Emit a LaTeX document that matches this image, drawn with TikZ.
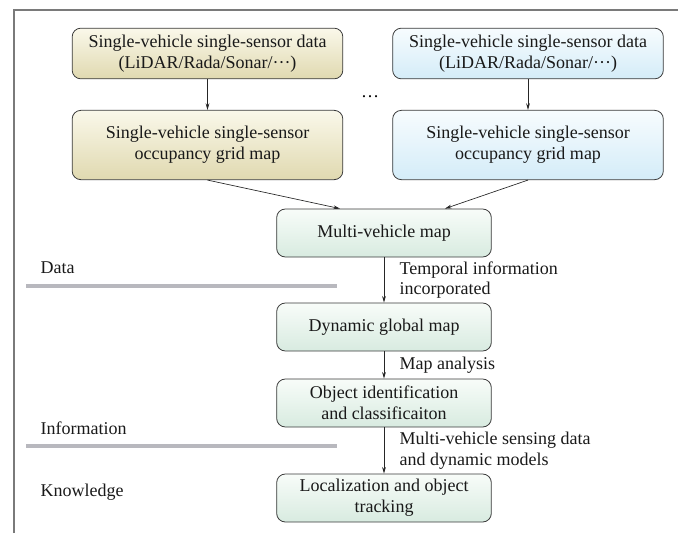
\documentclass[tikz,border=0pt]{standalone}
\usepackage{fontspec}
\setmainfont{Liberation Serif}
\usepackage{xcolor}
\usepackage{tikz}
\usetikzlibrary{
    arrows.meta, positioning, calc
}
\definecolor{khakitop}{HTML}{FAF8EA}
\definecolor{khakibot}{HTML}{E0D9B0}
\definecolor{bluetop}{HTML}{F7FCFE}
\definecolor{bluebot}{HTML}{D4ECF8}
\definecolor{greentop}{HTML}{F8FCF9}
\definecolor{greenbot}{HTML}{D8EBE0}
\definecolor{boxline}{HTML}{3A3A3A}
\definecolor{layergray}{HTML}{B8B8BE}
\definecolor{framegray}{HTML}{7A7A7A}

\begin{document}
\begin{tikzpicture}[
    x=0.75pt, y=-0.75pt,
    stage/.style={
        rectangle, rounded corners=6.5pt,
        draw=boxline, line width=0.6pt,
        align=center, text=black!90,
        font=\fontsize{13.5}{15.5}\selectfont,
    },
    sensorbox/.style={stage, minimum width=203pt},
    mapbox/.style={stage, top color=greentop, bottom color=greenbot,
        minimum width=161pt, minimum height=36pt},
    flow/.style={-{Stealth[length=5pt,width=2.8pt]}, line width=0.5pt, black!85},
    steplabel/.style={anchor=west, align=left, text=black!90,
        font=\fontsize{13.5}{15.5}\selectfont},
    layerlabel/.style={anchor=west, text=black!90,
        font=\fontsize{13.5}{15.5}\selectfont},
    layerline/.style={draw=layergray, line width=2.6pt},
]
\useasboundingbox (0,0) rectangle (678,533);

% ── Frame ───────────────────────────────────────────────────────────────────
\draw[framegray, line width=1.2pt] (14,533) -- (14,10) -- (678,10);

% ── Sensor columns (left: khaki, right: blue) ──────────────────────────────
\node[sensorbox, top color=khakitop, bottom color=khakibot, minimum height=38pt]
    (dataL) at (207.5,53.5) {Single-vehicle single-sensor data\\(LiDAR/Rada/Sonar/···)};
\node[sensorbox, top color=khakitop, bottom color=khakibot, minimum height=52pt]
    (gridL) at (207.5,145) {Single-vehicle single-sensor\\occupancy grid map};

\node[sensorbox, top color=bluetop, bottom color=bluebot, minimum height=38pt]
    (dataR) at (528,53.5) {Single-vehicle single-sensor data\\(LiDAR/Rada/Sonar/···)};
\node[sensorbox, top color=bluetop, bottom color=bluebot, minimum height=52pt]
    (gridR) at (528,145) {Single-vehicle single-sensor\\occupancy grid map};

\node[font=\fontsize{13.5}{15.5}\selectfont] (more) at (370,97) {\dots};

% ── Processing chain (green) ───────────────────────────────────────────────
\node[mapbox] (mvm) at (384,233) {Multi-vehicle map};
\node[mapbox] (dgm) at (384,327) {Dynamic global map};
\node[mapbox] (oic) at (384,403) {Object identification\\and classificaiton};
\node[mapbox] (lot) at (384,498) {Localization and object\\tracking};

% ── Connectors ──────────────────────────────────────────────────────────────
\draw[flow] (dataL) -- (gridL);
\draw[flow] (dataR) -- (gridR);
\draw[flow] (gridL.south) -- ($(mvm.north)+(-44,0)$);
\draw[flow] (gridR.south) -- ($(mvm.north)+(61,0)$);
\draw[flow] (mvm) -- (dgm);
\draw[flow] (dgm) -- (oic);
\draw[flow] (oic) -- (lot);

\node[steplabel] (tinfo) at (395,280) {Temporal information\\incorporated};
\node[steplabel] (manal) at (395,365) {Map analysis};
\node[steplabel] (msens) at (395,451) {Multi-vehicle sensing data\\and dynamic models};

% ── Layers ──────────────────────────────────────────────────────────────────
\node[layerlabel] (ldata) at (36,268) {Data};
\draw[layerline] (26,286) -- (337,286);
\node[layerlabel] (linfo) at (36,428) {Information};
\draw[layerline] (26,446) -- (337,446);
\node[layerlabel] (lknow) at (36,492) {Knowledge};

\end{tikzpicture}
\end{document}
